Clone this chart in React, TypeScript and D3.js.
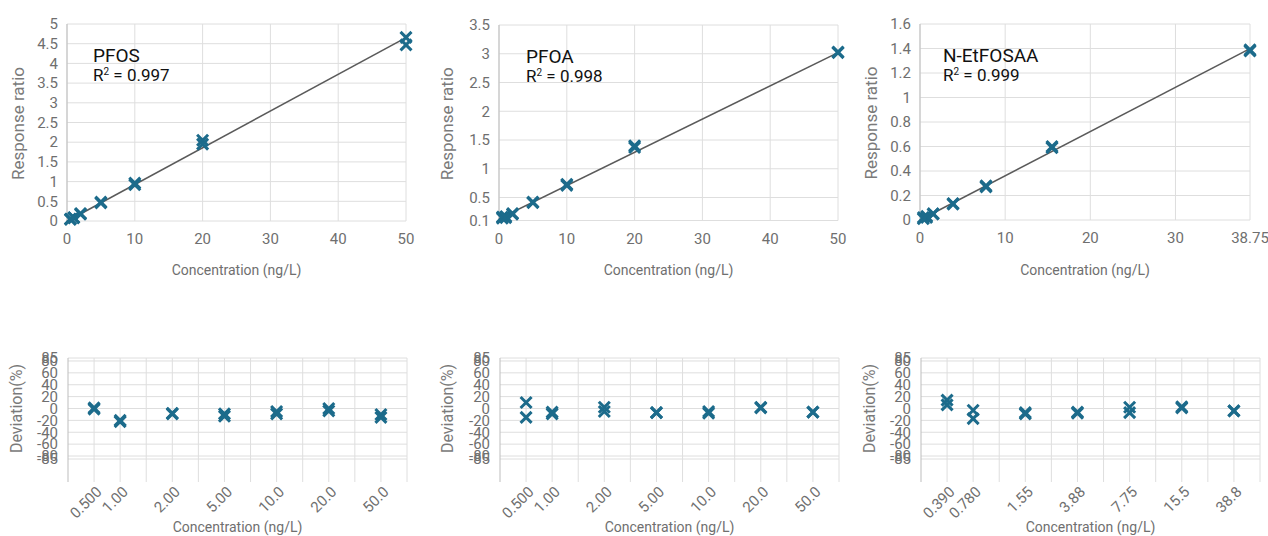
import React from "react";
import * as d3 from "d3";

// ---------- Calibration data ----------
const pfosConc = [0.5, 0.5, 1, 1, 2, 2, 5, 5, 10, 10, 20, 20, 50, 50];
const pfosResp = [0.05, 0.04, 0.09, 0.08, 0.19, 0.17, 0.48, 0.46, 0.96, 0.92, 2.05, 1.95, 4.66, 4.47];
const pfoaConc = [0.5, 0.5, 1, 1, 2, 2, 5, 5, 10, 10, 20, 20, 50, 50];
const pfoaResp = [0.16, 0.14, 0.17, 0.15, 0.22, 0.21, 0.42, 0.41, 0.73, 0.71, 1.4, 1.37, 3.03, 3.02];
const etConc = [0.39, 0.39, 0.78, 0.78, 1.55, 1.55, 3.88, 3.88, 7.75, 7.75, 15.5, 15.5, 38.75, 38.75];
const etResp = [0.02, 0.01, 0.03, 0.02, 0.05, 0.05, 0.135, 0.13, 0.28, 0.27, 0.6, 0.59, 1.39, 1.38];

const pfosFit = { slope: 0.0932, intercept: -0.005 };
const pfoaFit = { slope: 0.0578, intercept: 0.13 };
const etFit = { slope: 0.0361, intercept: 0.0 };

const pfosXTicks = [0, 10, 20, 30, 40, 50];
const pfosYTicks = [0, 0.5, 1, 1.5, 2, 2.5, 3, 3.5, 4, 4.5, 5];
const pfoaXTicks = [0, 10, 20, 30, 40, 50];
const pfoaYTicks = [0.1, 0.5, 1, 1.5, 2, 2.5, 3, 3.5];
const etXTicks = [0, 10, 20, 30, 38.75];
const etYTicks = [0, 0.2, 0.4, 0.6, 0.8, 1, 1.2, 1.4, 1.6];

// ---------- Deviation data ----------
const devSlots = [1, 2, 4, 6, 8, 10, 12];
const devYTicks = [85, 80, 60, 40, 20, 0, -20, -40, -60, -80, -85];
const pfosDevLabels = ["0.500", "1.00", "2.00", "5.00", "10.0", "20.0", "50.0"];
const pfoaDevLabels = ["0.500", "1.00", "2.00", "5.00", "10.0", "20.0", "50.0"];
const etDevLabels = ["0.390", "0.780", "1.55", "3.88", "7.75", "15.5", "38.8"];

const pfosDevCat = [0, 0, 1, 1, 2, 2, 3, 3, 4, 4, 5, 5, 6, 6];
const pfosDevVal = [1, -1, -22, -20, -9, -8, -9, -13, -5, -9, 0, -4, -10, -15];
const pfoaDevCat = [0, 0, 1, 1, 2, 2, 3, 3, 4, 4, 5, 5, 6, 6];
const pfoaDevVal = [10, -15, -6, -9, 2, -5, -7, -7, -5, -8, 2, 1, -6, -6];
const etDevCat = [0, 0, 1, 1, 2, 2, 3, 3, 4, 4, 5, 5, 6, 6];
const etDevVal = [14, 6, -3, -17, -7, -9, -6, -8, 2, -7, 3, 1, -4, -4];

const FONT = "Roboto, 'Liberation Sans', Arial, sans-serif";
const MARK = "#1c6b8b";
const GRID = "#dedede";
const AXIS = "#bdbdbd";
const TICK = "#6f6f6f";

function Cross({ x, y, s = 5.5 }: { x: number; y: number; s?: number }) {
  return (
    <path
      d={`M${x - s},${y - s}L${x + s},${y + s}M${x - s},${y + s}L${x + s},${y - s}`}
      stroke={MARK}
      strokeWidth={3}
      fill="none"
    />
  );
}

type Box = { l: number; r: number; t: number; b: number };

function CalibPanel(props: {
  conc: number[];
  resp: number[];
  fit: { slope: number; intercept: number };
  xDomain: [number, number];
  yDomain: [number, number];
  xTicks: number[];
  yTicks: number[];
  box: Box;
  name: string;
  r2: string;
  labelX: number;
  yTitleX: number;
}) {
  const { conc, resp, fit, xDomain, yDomain, xTicks, yTicks, box, name, r2, labelX, yTitleX } = props;
  const x = d3.scaleLinear().domain(xDomain).range([box.l, box.r]);
  const y = d3.scaleLinear().domain(yDomain).range([box.b, box.t]);
  const line = d3
    .line<number>()
    .x((d) => x(d))
    .y((d) => y(fit.intercept + fit.slope * d));
  const cx = (box.l + box.r) / 2;
  return (
    <g fontFamily={FONT}>
      {yTicks.map((t) => (
        <line key={"gy" + t} x1={box.l} x2={box.r} y1={y(t)} y2={y(t)} stroke={GRID} strokeWidth={1} />
      ))}
      {xTicks.map((t) => (
        <line key={"gx" + t} x1={x(t)} x2={x(t)} y1={box.t} y2={box.b} stroke={GRID} strokeWidth={1} />
      ))}
      <line x1={box.l} x2={box.l} y1={box.t} y2={box.b + 2} stroke={AXIS} strokeWidth={1} />
      {yTicks.map((t) => (
        <text key={"ty" + t} x={box.l - 9} y={y(t)} dy="0.35em" textAnchor="end" fontSize={15} fill={TICK}>
          {String(t)}
        </text>
      ))}
      {xTicks.map((t) => (
        <text key={"tx" + t} x={x(t)} y={box.b + 23} textAnchor="middle" fontSize={15} fill={TICK}>
          {String(t)}
        </text>
      ))}
      <path d={line([xDomain[0], xDomain[1]]) || ""} stroke="#5a5a5a" strokeWidth={1.6} fill="none" />
      {conc.map((c, i) => (
        <Cross key={"p" + i} x={x(c)} y={y(resp[i])} />
      ))}
      <text x={labelX} y={box.t + 38} fontSize={19} fill="#111">
        {name}
      </text>
      <text x={labelX} y={box.t + 57} fontSize={17} fill="#111">
        R<tspan fontSize={10} dy={-6}>2</tspan>
        <tspan dy={6}> = {r2}</tspan>
      </text>
      <text x={cx} y={275} textAnchor="middle" fontSize={14} fill={TICK}>
        Concentration (ng/L)
      </text>
      <text
        transform={`translate(${yTitleX},${(box.t + box.b) / 2 + 1}) rotate(-90)`}
        textAnchor="middle"
        dy="0.35em"
        fontSize={17}
        fill="#7a7a7a"
      >
        Response ratio
      </text>
    </g>
  );
}

function DevPanel(props: {
  labels: string[];
  cat: number[];
  val: number[];
  box: Box;
  yTitleX: number;
}) {
  const { labels, cat, val, box, yTitleX } = props;
  const x = d3.scaleLinear().domain([0, 13]).range([box.l, box.r]);
  const y = d3.scaleLinear().domain([-85, 85]).range([box.b, box.t]);
  const gridX = d3.range(1, 14);
  const cx = (box.l + box.r) / 2;
  return (
    <g fontFamily={FONT}>
      {devYTicks.map((t) => (
        <line key={"gy" + t} x1={box.l} x2={box.r} y1={y(t)} y2={y(t)} stroke={GRID} strokeWidth={1} />
      ))}
      {gridX.map((t) => (
        <line key={"gx" + t} x1={x(t)} x2={x(t)} y1={box.t} y2={box.b + 23} stroke={GRID} strokeWidth={1} />
      ))}
      <line x1={box.l} x2={box.l} y1={box.t} y2={box.b + 23} stroke={AXIS} strokeWidth={1} />
      {devYTicks.map((t) => (
        <text key={"ty" + t} x={box.l - 10} y={y(t)} dy="0.35em" textAnchor="end" fontSize={15} fill={TICK}>
          {String(t)}
        </text>
      ))}
      {labels.map((l, i) => (
        <text
          key={"tx" + i}
          transform={`translate(${x(devSlots[i]) + 5},${box.b + 30}) rotate(-45)`}
          textAnchor="end"
          dy="0.35em"
          fontSize={15}
          fill={TICK}
        >
          {l}
        </text>
      ))}
      {cat.map((c, i) => (
        <Cross key={"p" + i} x={x(devSlots[c])} y={y(val[i])} />
      ))}
      <text x={cx} y={532} textAnchor="middle" fontSize={14} fill={TICK}>
        Concentration (ng/L)
      </text>
      <text
        transform={`translate(${yTitleX},${(box.t + box.b) / 2}) rotate(-90)`}
        textAnchor="middle"
        dy="0.35em"
        fontSize={16}
        fill="#7a7a7a"
      >
        Deviation(%)
      </text>
    </g>
  );
}

export default function App() {
  return (
    <svg
      width={1268}
      height={536}
      style={{ position: "absolute", left: 0, top: 0, background: "#fff" }}
    >
      <CalibPanel
        conc={pfosConc}
        resp={pfosResp}
        fit={pfosFit}
        xDomain={[0, 50]}
        yDomain={[0, 5]}
        xTicks={pfosXTicks}
        yTicks={pfosYTicks}
        box={{ l: 67, r: 406, t: 24, b: 221 }}
        name="PFOS"
        r2="0.997"
        labelX={93}
        yTitleX={18}
      />
      <CalibPanel
        conc={pfoaConc}
        resp={pfoaResp}
        fit={pfoaFit}
        xDomain={[0, 50]}
        yDomain={[0.1, 3.5]}
        xTicks={pfoaXTicks}
        yTicks={pfoaYTicks}
        box={{ l: 499, r: 838, t: 25, b: 220.5 }}
        name="PFOA"
        r2="0.998"
        labelX={526}
        yTitleX={447}
      />
      <CalibPanel
        conc={etConc}
        resp={etResp}
        fit={etFit}
        xDomain={[0, 38.75]}
        yDomain={[0, 1.6]}
        xTicks={etXTicks}
        yTicks={etYTicks}
        box={{ l: 920, r: 1250, t: 24, b: 220 }}
        name="N-EtFOSAA"
        r2="0.999"
        labelX={943}
        yTitleX={871}
      />
      <DevPanel labels={pfosDevLabels} cat={pfosDevCat} val={pfosDevVal} box={{ l: 68, r: 407, t: 358, b: 459 }} yTitleX={16} />
      <DevPanel labels={pfoaDevLabels} cat={pfoaDevCat} val={pfoaDevVal} box={{ l: 500, r: 839, t: 358, b: 459 }} yTitleX={447} />
      <DevPanel labels={etDevLabels} cat={etDevCat} val={etDevVal} box={{ l: 921, r: 1260, t: 358, b: 459 }} yTitleX={869} />
    </svg>
  );
}
